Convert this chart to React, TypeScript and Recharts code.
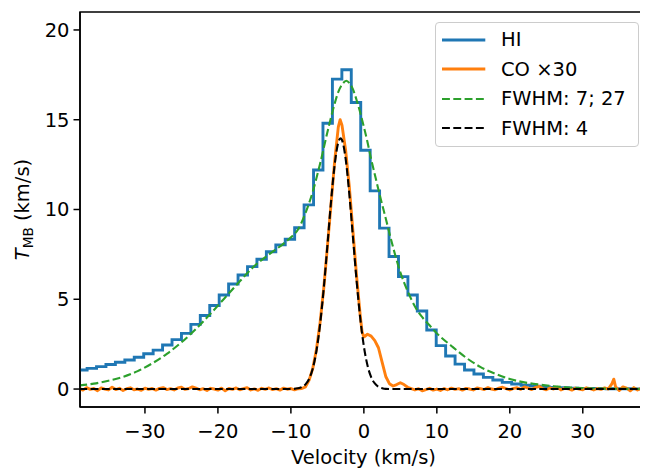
import React from "react";
import { LineChart, Line, XAxis, YAxis, Label, ReferenceArea } from "recharts";

// HI spectrum, one value per channel (channel centres in km/s)
const hiVelocity = [
  -39.87, -38.57, -37.28, -35.99, -34.7, -33.4, -32.11, -30.82, -29.52, -28.23,
  -26.94, -25.64, -24.35, -23.06, -21.77, -20.47, -19.18, -17.89, -16.59, -15.3,
  -14.01, -12.71, -11.42, -10.13, -8.84, -7.54, -6.25, -4.96, -3.66, -2.37,
  -1.08, 0.22, 1.51, 2.8, 4.1, 5.39, 6.68, 7.97, 9.27, 10.56,
  11.85, 13.15, 14.44, 15.73, 17.03, 18.32, 19.61, 20.9, 22.2, 23.49,
  24.78, 26.08, 27.37, 28.66, 29.96, 31.25, 32.54, 33.83, 35.13, 36.42,
  37.71, 39.01,
];
const hiTemp = [
  1.0, 1.06, 1.15, 1.25, 1.37, 1.49, 1.62, 1.77, 1.97, 2.17,
  2.45, 2.75, 3.1, 3.6, 4.1, 4.65, 5.24, 5.85, 6.35, 6.82,
  7.23, 7.65, 8.03, 8.34, 8.98, 10.26, 12.2, 14.8, 17.26, 17.78,
  15.96, 13.3, 11.04, 8.96, 7.38, 6.26, 5.24, 4.35, 3.29, 2.42,
  1.84, 1.39, 1.06, 0.84, 0.65, 0.5, 0.37, 0.28, 0.21, 0.16,
  0.12, 0.09, 0.07, 0.05, 0.04, 0.03, 0.03, 0.02, 0.02, 0.02,
  0.01, 0.01,
];

// CO spectrum scaled by 30
const coVelocity = [
  -39, -38.5, -38, -37.5, -37, -36.5, -36, -35.5, -35, -34.5,
  -34, -33.5, -33, -32.5, -32, -31.5, -31, -30.5, -30, -29.5,
  -29, -28.5, -28, -27.5, -27, -26.5, -26, -25.5, -25, -24.5,
  -24, -23.5, -23, -22.5, -22, -21.5, -21, -20.5, -20, -19.5,
  -19, -18.5, -18, -17.5, -17, -16.5, -16, -15.5, -15, -14.5,
  -14, -13.5, -13, -12.5, -12, -11.5, -11, -10.5, -10, -9.5, -9,
  -8.5, -8, -7.5, -7, -6.5, -6, -5.5, -5, -4.5, -4,
  -3.5, -3.25, -3, -2.5, -2, -1.5, -1, -0.5, -0.25, 0,
  0.5, 1, 1.5, 2, 2.5, 3, 3.5, 4, 4.5, 5, 5.5, 6, 6.5,
  7, 7.5, 8, 8.5, 9, 9.5, 10, 10.5, 11, 11.5,
  12, 12.5, 13, 13.5, 14, 14.5, 15, 15.5, 16, 16.5,
  17, 17.5, 18, 18.5, 19, 19.5, 20, 20.5, 21, 21.5,
  22, 22.5, 23, 23.5, 24, 24.5, 25, 25.5, 26, 26.5,
  27, 27.5, 28, 28.5, 29, 29.5, 30, 30.5, 31, 31.5,
  32, 32.5, 33, 33.5, 34, 34.25, 34.5, 35, 35.5, 36,
  36.5, 37, 37.5, 38, 38.5, 39,
];
const coTemp = [
  0.05, -0.06, 0.08, -0.02, 0.03, -0.09, 0.06, 0.0, -0.05, 0.1,
  -0.03, 0.04, -0.08, 0.02, 0.07, -0.04, 0.0, -0.07, 0.05, -0.02,
  0.03, -0.06, 0.04, 0.08, -0.03, 0.02, -0.05, 0.06, 0.1, -0.02,
  0.03, 0.12, 0.05, -0.04, 0.02, -0.08, 0.04, 0.0, -0.06, 0.05,
  -0.1, 0.03, -0.02, 0.06, -0.04, 0.02, 0.08, -0.05, 0.01, -0.07,
  0.04, -0.02, 0.06, -0.03, 0.02, -0.06, 0.05, -0.01, 0.03, -0.04, 0.02,
  0.03, 0.12, 0.5, 1.15, 2.2, 3.7, 5.6, 7.9, 10.3, 12.7,
  14.6, 15.0, 14.7, 13.3, 11.3, 8.8, 6.3, 4.1, 3.2, 2.9,
  3.05, 2.95, 2.7, 2.3, 1.5, 0.7, 0.3, 0.17, 0.25, 0.35, 0.25, 0.1, 0.02,
  -0.05, 0.02, -0.1, -0.03, 0.04, -0.06, 0.0, -0.08, 0.03, -0.04,
  0.05, -0.02, 0.02, -0.06, 0.04, 0.0, -0.05, 0.06, 0.02, -0.03,
  0.08, 0.0, -0.04, 0.05, 0.1, 0.02, -0.05, 0.04, 0.07, -0.02,
  0.12, 0.05, -0.03, 0.08, 0.15, 0.03, -0.04, 0.06, 0.0, 0.1,
  -0.05, 0.04, 0.02, -0.06, 0.05, 0.0, -0.04, 0.07, 0.02, -0.05,
  0.03, -0.02, 0.06, 0.0, 0.3, 0.55, 0.12, -0.08, 0.12, 0.05,
  -0.1, 0.08, -0.05, 0.04, -0.03, 0.02,
];

// two-component fit to HI (green dashed)
const broadVelocity = [
  -39, -37, -35, -33, -31, -29, -27, -25, -23, -21,
  -19, -17, -15, -13, -11, -10, -9, -8, -7, -6,
  -5, -4, -3.5, -3, -2.4, -2, -1.5, -1, -0.5, 0,
  0.5, 1, 1.5, 2, 3, 4, 5, 6, 7, 8,
  9, 10, 12, 14, 16, 18, 20, 22, 24, 26,
  28, 30, 32, 34, 36, 39,
];
const broadTemp = [
  0.2, 0.3, 0.46, 0.68, 1.0, 1.43, 1.96, 2.6, 3.35, 4.2,
  5.1, 6.0, 6.85, 7.5, 8.1, 8.45, 8.9, 9.8, 11.0, 12.55,
  14.3, 15.9, 16.55, 16.95, 17.17, 17.05, 16.7, 16.1, 15.4, 14.6,
  13.75, 12.8, 11.95, 11.1, 9.5, 7.9, 6.5, 5.45, 4.6, 4.0,
  3.55, 3.1, 2.4, 1.75, 1.22, 0.85, 0.56, 0.37, 0.25, 0.16,
  0.09, 0.05, 0.03, 0.02, 0.01, 0.0,
];

// single-component fit to CO (black dashed)
const narrowVelocity = [
  -39, -12, -10, -9, -8.5, -8, -7.5, -7, -6.5, -6,
  -5.5, -5, -4.5, -4, -3.5, -3.2, -3, -2.5, -2, -1.5,
  -1, -0.5, 0, 0.5, 1, 1.5, 2, 2.5, 3, 4, 6, 39,
];
const narrowTemp = [
  0, 0, 0, 0.04, 0.11, 0.26, 0.57, 1.15, 2.12, 3.6,
  5.6, 7.97, 10.43, 12.5, 13.75, 13.97, 13.87, 12.83, 10.89, 8.47,
  6.05, 3.96, 2.38, 1.31, 0.66, 0.31, 0.13, 0.05, 0.01, 0, 0, 0,
];

const xTicks = [-30, -20, -10, 0, 10, 20, 30];
const yTicks = [0, 5, 10, 15, 20];
const xDomain = [-38.9, 38.8];
const yDomain = [-1, 21];

const font = '"DejaVu Sans", sans-serif';
const fontSize = 19.5;
const dashes = "7.9 3.4";

const toPoints = (vs: number[], ts: number[]) => vs.map((v, i) => ({ v, t: ts[i] }));

const hiData = toPoints(hiVelocity, hiTemp);
const coData = toPoints(coVelocity, coTemp);
const broadData = toPoints(broadVelocity, broadTemp);
const narrowData = toPoints(narrowVelocity, narrowTemp);

const legendItems = [
  { name: "HI", color: "#1f77b4", width: 2.9, dash: undefined },
  { name: "CO \u00d730", color: "#ff7f0e", width: 2.9, dash: undefined },
  { name: "FWHM: 7; 27", color: "#2ca02c", width: 2.1, dash: dashes },
  { name: "FWHM: 4", color: "#000000", width: 2.1, dash: dashes },
];

const fmtTick = (v: number) => (v < 0 ? `\u2212${Math.abs(v)}` : `${v}`);

const spine = { stroke: "#000", strokeWidth: 1.5 };
const tickStyle = { fill: "#000", fontSize, fontFamily: font };

const XLabel = () => (
  <text x={355.5} y={456} textAnchor="middle" fontSize={fontSize} fontFamily={font} fill="#000">
    Velocity (km/s)
  </text>
);

const YLabel = () => (
  <text
    x={21}
    y={201.5}
    transform="rotate(-90 21 201.5)"
    textAnchor="middle"
    fontSize={fontSize}
    fontFamily={font}
    fill="#000"
  >
    <tspan fontStyle="italic">T</tspan>
    <tspan fontSize={13.6} dy={4}>MB</tspan>
    <tspan dy={-4}>{" (km/s)"}</tspan>
  </text>
);

const LegendBox = () => (
  <div
    style={{
      position: "absolute",
      left: 427,
      top: 14,
      width: 204,
      height: 125,
      boxSizing: "border-box",
      border: "1px solid #cccccc",
      borderRadius: 4,
      background: "rgba(255,255,255,0.8)",
      fontFamily: font,
      fontSize,
      color: "#000",
    }}
  >
    {legendItems.map((item, i) => (
      <div
        key={item.name}
        style={{
          position: "absolute",
          left: 0,
          top: 16.5 + i * 29.5 - 12,
          height: 24,
          display: "flex",
          alignItems: "center",
          whiteSpace: "nowrap",
        }}
      >
        <svg width={44} height={24} style={{ marginLeft: 6, marginRight: 15 }}>
          <line
            x1={0}
            x2={43.3}
            y1={12}
            y2={12}
            stroke={item.color}
            strokeWidth={item.width}
            strokeDasharray={item.dash}
          />
        </svg>
        <span>{item.name}</span>
      </div>
    ))}
  </div>
);

const App: React.FC = () => {
  return (
    <div style={{ position: "relative", width: 640, height: 460 }}>
      <LineChart width={640} height={460} margin={{ top: 4, right: 1, bottom: 0, left: 0 }}>
        <XAxis
          dataKey="v"
          type="number"
          domain={xDomain}
          ticks={xTicks}
          interval={0}
          allowDataOverflow
          tickFormatter={fmtTick}
          height={61}
          tickSize={6.5}
          tickMargin={11}
          axisLine={spine}
          tickLine={spine}
          tick={tickStyle}
        >
          <Label content={XLabel} />
        </XAxis>
        <YAxis
          type="number"
          domain={yDomain}
          ticks={yTicks}
          interval={0}
          allowDataOverflow
          width={72}
          tickSize={6.5}
          tickMargin={4}
          axisLine={spine}
          tickLine={spine}
          tick={tickStyle}
        >
          <Label content={YLabel} />
        </YAxis>
        {/* top and right spines */}
        <ReferenceArea
          x1={xDomain[0]}
          x2={xDomain[1]}
          y1={yDomain[0]}
          y2={yDomain[1]}
          fill="none"
          fillOpacity={0}
          stroke="#000"
          strokeWidth={1.5}
          ifOverflow="visible"
        />
        <Line
          data={hiData}
          dataKey="t"
          type="step"
          stroke="#1f77b4"
          strokeWidth={2.9}
          dot={false}
          activeDot={false}
          isAnimationActive={false}
        />
        <Line
          data={coData}
          dataKey="t"
          type="linear"
          stroke="#ff7f0e"
          strokeWidth={2.9}
          strokeLinejoin="round"
          dot={false}
          activeDot={false}
          isAnimationActive={false}
        />
        <Line
          data={broadData}
          dataKey="t"
          type="monotone"
          stroke="#2ca02c"
          strokeWidth={2.1}
          strokeDasharray={dashes}
          dot={false}
          activeDot={false}
          isAnimationActive={false}
        />
        <Line
          data={narrowData}
          dataKey="t"
          type="monotone"
          stroke="#000000"
          strokeWidth={2.1}
          strokeDasharray={dashes}
          dot={false}
          activeDot={false}
          isAnimationActive={false}
        />
      </LineChart>
      <LegendBox />
    </div>
  );
};

export default App;
